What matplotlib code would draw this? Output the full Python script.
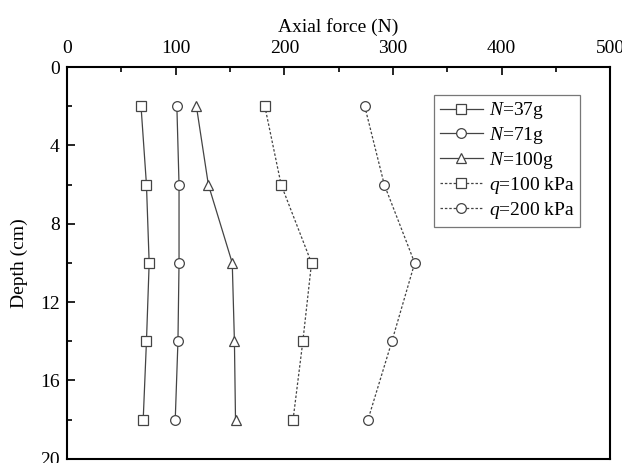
import matplotlib.pyplot as plt
from matplotlib.ticker import MultipleLocator

plt.rcParams['font.family'] = ['Liberation Serif', 'DejaVu Serif']
plt.rcParams['mathtext.fontset'] = 'custom'
plt.rcParams['mathtext.it'] = 'Liberation Serif:italic'
plt.rcParams['mathtext.rm'] = 'Liberation Serif'

depth = [2, 6, 10, 14, 18]
n37 = [68, 73, 75.5, 73, 70]
n71 = [101, 103, 103, 102, 99.5]
n100 = [119, 130, 152, 154, 155]
q100 = [182, 197, 225, 217, 208]
q200 = [274, 292, 320, 299, 277]

series = [
    (n37, 's', '-', r'$N$=37g'),
    (n71, 'o', '-', r'$N$=71g'),
    (n100, '^', '-', r'$N$=100g'),
    (q100, 's', (0, (2, 1.5)), r'$q$=100 kPa'),
    (q200, 'o', (0, (2, 1.5)), r'$q$=200 kPa'),
]

fig = plt.figure(figsize=(6.22, 4.63), dpi=100)
ax = fig.add_axes([0.108, 0.009, 0.873, 0.846])

for vals, marker, ls, label in series:
    ax.plot(vals, depth, marker=marker, linestyle=ls, color='#444444',
            linewidth=0.9, markersize=7, markerfacecolor='white',
            markeredgewidth=0.9, label=label)

ax.set_xlim(0, 500)
ax.set_ylim(20, 0)
ax.xaxis.set_label_position('top')
ax.xaxis.tick_top()
ax.set_xlabel('Axial force (N)', fontsize=14, labelpad=6)
ax.set_ylabel('Depth (cm)', fontsize=14, labelpad=8.5)
ax.xaxis.set_major_locator(MultipleLocator(100))
ax.xaxis.set_minor_locator(MultipleLocator(50))
ax.yaxis.set_major_locator(MultipleLocator(4))
ax.yaxis.set_minor_locator(MultipleLocator(2))
ax.tick_params(which='both', direction='in', labelsize=14, width=1.2)
ax.tick_params(which='major', length=6)
ax.tick_params(which='minor', length=3.5)
ax.tick_params(axis='x', which='major', pad=7)
ax.tick_params(axis='y', which='major', pad=5.5)
for s in ax.spines.values():
    s.set_linewidth(1.5)

leg = ax.legend(loc='upper right', bbox_to_anchor=(0.945, 0.93), fontsize=14,
                frameon=True, fancybox=False, edgecolor='#555555',
                handlelength=2.2, handletextpad=0.3, labelspacing=0.2,
                borderpad=0.3, borderaxespad=0)
leg.get_frame().set_linewidth(0.9)

fig.savefig('out.png', dpi=100)
